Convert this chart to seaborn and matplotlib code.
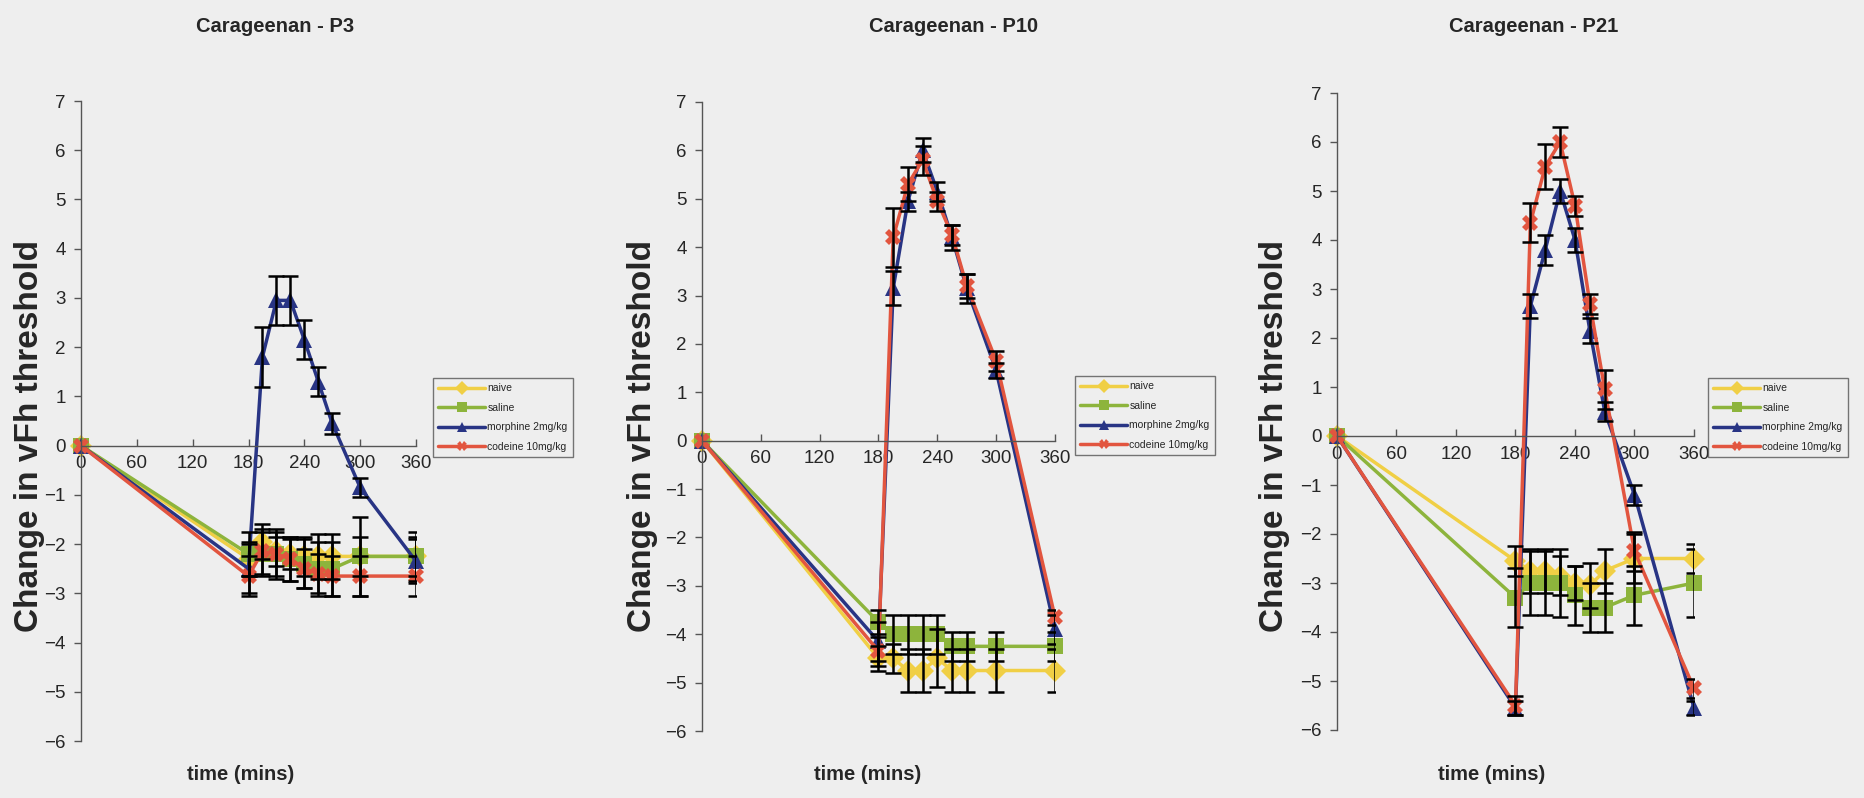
import pandas as pd
import seaborn as sns
import matplotlib.pyplot as plt
from matplotlib.lines import Line2D

# time points (mins) and groups
times = [0, 180, 195, 210, 225, 240, 255, 270, 300, 360]
groups = ['naive', 'saline', 'morphine 2mg/kg', 'codeine 10mg/kg']
panel_titles = ['Carageenan - P3', 'Carageenan - P10', 'Carageenan - P21']
x_ticks = [0, 60, 120, 180, 240, 300, 360]
y_ticks = [-6, -5, -4, -3, -2, -1, 0, 1, 2, 3, 4, 5, 6, 7]

# P3
p3_naive = [0, -2.3, -1.95, -2.15, -2.2, -2.25, -2.25, -2.25, -2.25, -2.25]
p3_naive_err = [0, 0.35, 0.35, 0.3, 0.3, 0.4, 0.45, 0.45, 0.4, 0.4]
p3_saline = [0, -2.2, -2.2, -2.2, -2.3, -2.4, -2.5, -2.5, -2.25, -2.25]
p3_saline_err = [0, 0.45, 0.45, 0.5, 0.45, 0.5, 0.55, 0.55, 0.8, 0.5]
p3_morphine = [0, -2.5, 1.8, 2.95, 2.95, 2.15, 1.3, 0.45, -0.85, -2.35]
p3_morphine_err = [0, 0.5, 0.6, 0.5, 0.5, 0.4, 0.3, 0.22, 0.2, 0.45]
p3_codeine = [0, -2.65, -2.15, -2.2, -2.3, -2.5, -2.6, -2.65, -2.65, -2.65]
p3_codeine_err = [0, 0.4, 0.45, 0.45, 0.45, 0.4, 0.4, 0.4, 0.4, 0.4]

# P10
p10_naive = [0, -4.5, -4.5, -4.75, -4.75, -4.5, -4.75, -4.75, -4.75, -4.75]
p10_naive_err = [0, 0.25, 0.3, 0.45, 0.45, 0.6, 0.45, 0.45, 0.45, 0.45]
p10_saline = [0, -3.75, -4.0, -4.0, -4.0, -4.0, -4.25, -4.25, -4.25, -4.25]
p10_saline_err = [0, 0.25, 0.4, 0.4, 0.4, 0.4, 0.3, 0.3, 0.3, 0.3]
p10_morphine = [0, -4.15, 3.15, 4.95, 6.0, 5.15, 4.2, 3.15, 1.45, -3.9]
p10_morphine_err = [0, 0.4, 0.35, 0.2, 0.25, 0.2, 0.25, 0.3, 0.15, 0.3]
p10_codeine = [0, -4.35, 4.2, 5.3, 5.8, 4.95, 4.25, 3.2, 1.65, -3.65]
p10_codeine_err = [0, 0.3, 0.6, 0.35, 0.3, 0.2, 0.2, 0.25, 0.2, 0.15]

# P21
p21_naive = [0, -2.55, -2.75, -2.75, -2.85, -3.0, -3.05, -2.75, -2.5, -2.5]
p21_naive_err = [0, 0.3, 0.45, 0.45, 0.4, 0.35, 0.45, 0.45, 0.5, 0.3]
p21_saline = [0, -3.3, -3.0, -3.0, -3.0, -3.25, -3.5, -3.5, -3.25, -3.0]
p21_saline_err = [0, 0.6, 0.65, 0.65, 0.7, 0.6, 0.5, 0.5, 0.6, 0.7]
p21_morphine = [0, -5.55, 2.65, 3.8, 5.0, 4.0, 2.15, 0.5, -1.2, -5.55]
p21_morphine_err = [0, 0.15, 0.25, 0.3, 0.25, 0.25, 0.25, 0.2, 0.2, 0.15]
p21_codeine = [0, -5.5, 4.35, 5.5, 6.0, 4.7, 2.7, 0.95, -2.35, -5.15]
p21_codeine_err = [0, 0.2, 0.4, 0.45, 0.3, 0.2, 0.2, 0.4, 0.4, 0.2]

panels = [
    ([p3_naive, p3_saline, p3_morphine, p3_codeine],
     [p3_naive_err, p3_saline_err, p3_morphine_err, p3_codeine_err]),
    ([p10_naive, p10_saline, p10_morphine, p10_codeine],
     [p10_naive_err, p10_saline_err, p10_morphine_err, p10_codeine_err]),
    ([p21_naive, p21_saline, p21_morphine, p21_codeine],
     [p21_naive_err, p21_saline_err, p21_morphine_err, p21_codeine_err]),
]

bg = '#eeeeee'
palette = dict(zip(groups, ['#f0cf45', '#8db43c', '#283484', '#e2553f']))
markers = dict(zip(groups, ['D', 's', '^', 'X']))

sns.set_theme(style='white')
plt.rcParams['font.family'] = ['Liberation Sans', 'DejaVu Sans']

W, H = 1865, 798
fig = plt.figure(figsize=(W / 100, H / 100), dpi=100, facecolor=bg)

# axes boxes in pixels: left, right (x=0..360), top (y=7), bottom (y=-6)
boxes = [(81, 416, 101, 741), (702, 1055, 102, 731), (1337, 1694, 93, 730)]
title_x = [275, 954, 1534]
xlabel_x = [241, 868, 1492]
ylabel_x = [30, 642, 1275]
legend_pos = [(428, 373), (1070, 371), (1703, 373)]

for i, (vals, errs) in enumerate(panels):
    l, r, t, b = boxes[i]
    ax = fig.add_axes([l / W, 1 - b / H, (r - l) / W, (b - t) / H])
    ax.set_facecolor('none')

    rows = []
    for g, v, e in zip(groups, vals, errs):
        for tm, vv, ee in zip(times, v, e):
            rows.append({'time': tm, 'value': vv, 'err': ee, 'group': g})
    df = pd.DataFrame(rows)

    sns.lineplot(data=df, x='time', y='value', hue='group', style='group',
                 hue_order=groups, style_order=groups, palette=palette,
                 markers=markers, dashes=False, markersize=11, linewidth=2.5,
                 markeredgewidth=0, legend=False, ax=ax, clip_on=False,
                 estimator=None)
    for g in groups:
        d = df[df['group'] == g]
        d = d[d['err'] > 0]
        ax.errorbar(d['time'], d['value'], yerr=d['err'], fmt='none',
                    ecolor='black', elinewidth=1.8, capsize=6, capthick=1.8,
                    zorder=3)

    ax.set_xlim(0, 360)
    ax.set_ylim(-6, 7)
    ax.set_xticks(x_ticks)
    ax.set_yticks(y_ticks)
    ax.spines['top'].set_visible(False)
    ax.spines['right'].set_visible(False)
    ax.spines['bottom'].set_position(('data', 0))
    ax.spines['bottom'].set_color('#555555')
    ax.spines['left'].set_color('#555555')
    ax.spines['bottom'].set_linewidth(1)
    ax.spines['left'].set_linewidth(1)
    ax.tick_params(axis='x', direction='in', length=5, width=1, color='#555555',
                   labelsize=13.5, pad=7)
    ax.tick_params(axis='y', direction='out', length=5, width=1, color='#555555',
                   labelsize=13.5, pad=6)
    ax.tick_params(left=True, bottom=True)
    ax.set_xlabel('')
    ax.set_ylabel('')

    fig.text(title_x[i] / W, 1 - 26 / H, panel_titles[i], ha='center', va='center',
             fontsize=14.5, fontweight='bold')
    fig.text(xlabel_x[i] / W, 1 - 775 / H, 'time (mins)', ha='center', va='center',
             fontsize=14.5, fontweight='bold')
    fig.text(ylabel_x[i] / W, 1 - 436 / H, 'Change in vFh threshold', ha='center',
             va='center', rotation=90, fontsize=24, fontweight='bold')

    handles = [Line2D([0], [0], color=palette[g], marker=markers[g], lw=2.5,
                      markersize=7, markeredgewidth=0) for g in groups]
    lx, ly = legend_pos[i]
    leg = fig.legend(handles, groups, loc='upper left',
                     bbox_to_anchor=(lx / W, 1 - ly / H), fontsize=7.5,
                     frameon=True, fancybox=False, edgecolor='#555555',
                     facecolor=bg, handlelength=4.5, labelspacing=0.9,
                     borderpad=0.5, handletextpad=0.2)
    leg.get_frame().set_linewidth(1)

plt.savefig('out.png', dpi=100, facecolor=bg)
